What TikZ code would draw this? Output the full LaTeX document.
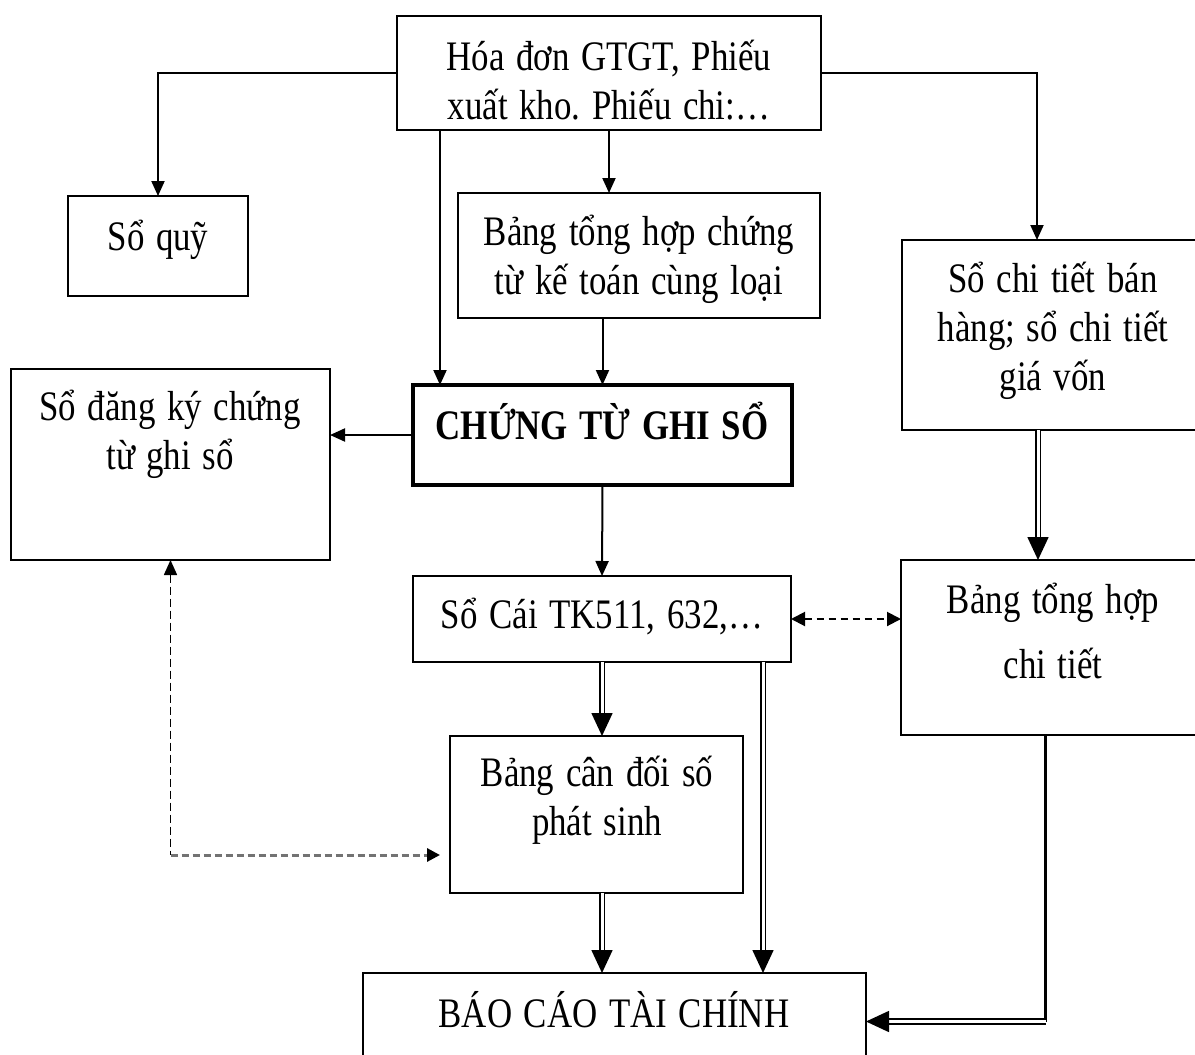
\documentclass[tikz,border=0pt]{standalone}
\usepackage{fontspec}
\setmainfont{Liberation Serif}
\frenchspacing
\usetikzlibrary{arrows.meta}
\begin{document}
\begin{tikzpicture}[x=1pt,y=-1pt,
  box/.style={draw, line width=2pt, inner sep=0pt, outer sep=0pt},
  txt/.style={align=center, text width=500pt, inner sep=0pt, anchor=base,
    xscale=0.83, transform shape, font=\fontsize{42}{49}\selectfont},
  arr/.style={line width=2pt, -{Triangle[length=15pt,width=13pt]}},
  dbl/.style={double, double distance=3pt, line width=1.6pt,
    -{Triangle[length=23pt,width=21pt]}},
  dsh/.style={line width=2pt, dash pattern=on 7pt off 5pt,
    {Triangle[length=14pt,width=14pt]}-{Triangle[length=14pt,width=14pt]}}
]
\useasboundingbox (0,0) rectangle (1195,1055);
\begin{scope}
\clip (0,0) rectangle (1195,1055);

% boxes
\node[box, minimum width=424, minimum height=114] (hd) at (609,73) {};
\node[box, minimum width=180, minimum height=100] (soquy) at (158,246) {};
\node[box, minimum width=362, minimum height=125] (bth) at (639,255.5) {};
\node[box, minimum width=302, minimum height=190] (sct) at (1053,335) {};
\node[box, line width=4pt, minimum width=379, minimum height=100] (ctgs) at (602.5,435) {};
\node[box, minimum width=319, minimum height=191] (sdk) at (170.5,464.5) {};
\node[box, minimum width=378, minimum height=86] (socai) at (602,619) {};
\node[box, minimum width=303, minimum height=175] (bthct) at (1052.5,647.5) {};
\node[box, minimum width=293, minimum height=157] (bcd) at (596.5,814.5) {};
\node[box, minimum width=503, minimum height=97] (bctc) at (614.5,1021.5) {};

% texts
\node[txt] (hdt) at (609,70) {Hóa đơn GTGT, Phiếu\\xuất kho. Phiếu chi:…};
\node[txt] (soquyt) at (158,250) {Sổ quỹ};
\node[txt] (btht) at (639,245) {Bảng tổng hợp chứng\\từ kế toán cùng loại};
\node[txt] (sctt) at (1053,292) {Sổ chi tiết bán\\hàng; sổ chi tiết\\giá vốn};
\node[txt, font=\fontsize{42}{49}\selectfont\bfseries] (ctgst) at (602,439) {CHỨNG TỪ GHI SỔ};
\node[txt] (sdkt) at (170,420) {Sổ đăng ký chứng\\từ ghi sổ};
\node[txt] (socait) at (602,628) {Sổ Cái TK511, 632,…};
\node[txt] (bthctt) at (1053,613) {Bảng tổng hợp\\[16pt]chi tiết};
\node[txt] (bcdt) at (597,786) {Bảng cân đối số\\phát sinh};
\node[txt] (bctct) at (614,1027) {BÁO CÁO TÀI CHÍNH};

% single connectors
\draw[arr] (hd.west) -| (soquy.north);
\draw[arr] (hd.east) -| ([xshift=-16pt]sct.north);
\coordinate (p1) at ([xshift=27pt]ctgs.north west);
\draw[arr] (hd.south -| p1) -- (p1);
\draw[arr] (hd.south) -- (hd.south |- bth.north);
\draw[arr] (bth.south -| ctgs.north) -- (ctgs.north);
\draw[arr] (ctgs.west) -- (ctgs.west -| sdk.east);
\draw[arr] (ctgs.south) -- (socai.north);
\draw[dsh] (socai.east) -- (socai.east -| bthct.west);

% double connectors
\draw[dbl] ([xshift=-15pt]sct.south) -- ([xshift=-15pt]sct.south |- bthct.north);
\draw[dbl] (socai.south) -- (socai.south |- bcd.north);
\draw[dbl] ([xshift=-28pt]socai.south east) -- ([xshift=-28pt]socai.south east |- bctc.north);
\draw[dbl] (bcd.south -| socai.south) -- (socai.south |- bctc.north);
\coordinate (q) at ([xshift=-7pt]bthct.south |- bctc.east);
\draw[line width=3pt] ([xshift=-7pt]bthct.south) -- (q);
\draw[dbl] (q) -- (bctc.east);

% dashed link between register and trial balance
\coordinate (r) at ([yshift=-40.5pt]bcd.west -| sdk.south);
\coordinate (r2) at ([xshift=-10pt,yshift=-40.5pt]bcd.west);
\draw[line width=1.6pt, dash pattern=on 8pt off 4pt,
  {Triangle[length=15pt,width=13pt]}-] (sdk.south) -- (r);
\draw[line width=3pt, draw=black!55, dash pattern=on 7pt off 4pt,
  -{Triangle[length=13pt,width=13pt,color=black]}] (r) -- (r2);
\end{scope}
\end{tikzpicture}
\end{document}
